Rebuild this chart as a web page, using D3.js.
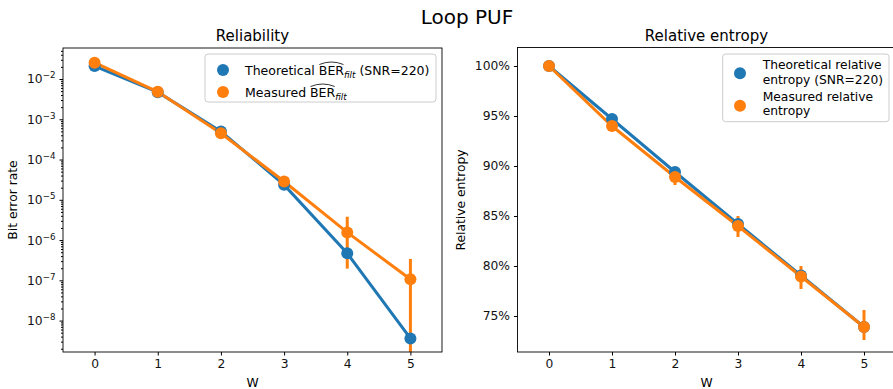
<!DOCTYPE html>
<html><head><meta charset="utf-8">
<script src="https://cdn.jsdelivr.net/npm/d3@7"></script>
<style>
body{margin:0;background:#fff;}
svg{font-family:"DejaVu Sans",sans-serif;}
</style></head>
<body><svg id="c" width="893" height="389"></svg>
<script>
const W = [0,1,2,3,4,5];
const berTheo = [0.021, 4.7e-3, 5.0e-4, 2.35e-5, 4.7e-7, 3.6e-9];
const berMeas = [0.0254, 4.8e-3, 4.5e-4, 2.85e-5, 1.55e-6, 1.06e-7];
const berMeasLo = [0.0254, 4.8e-3, 4.5e-4, 2.85e-5, 1.95e-7, 1e-12];
const berMeasHi = [0.0254, 4.8e-3, 4.5e-4, 2.85e-5, 3.8e-6, 3.4e-7];
const berTicks = [1e-8,1e-7,1e-6,1e-5,1e-4,1e-3,1e-2];
const entTheo = [100, 94.7, 89.4, 84.2, 79.05, 73.9];
const entMeas = [100, 94.0, 88.9, 84.0, 78.95, 73.9];
const entLo = [100, 93.9, 88.1, 82.9, 77.7, 72.6];
const entHi = [100, 94.1, 89.5, 85.0, 80.0, 75.6];
const entTicks = [75,80,85,90,95,100];
const BLUE = "#1f77b4", ORANGE = "#ff7f0e";

const svg = d3.select("#c");
svg.append("text").attr("x",467).attr("y",24).attr("text-anchor","middle").attr("font-size",20).text("Loop PUF");

function panel(opt){
  const g = svg.append("g");
  const x = d3.scaleLinear().domain([-0.5,5.5]).range([opt.x0,opt.x1]);
  const y = opt.y;
  const id = "clip"+opt.name;
  svg.append("clipPath").attr("id",id).append("rect")
    .attr("x",opt.x0).attr("y",opt.y0).attr("width",opt.x1-opt.x0).attr("height",opt.y1-opt.y0);
  const data = g.append("g").attr("clip-path",`url(#${id})`);
  const line = d3.line().x((d,i)=>x(W[i])).y(d=>y(d));
  data.append("path").datum(opt.theo).attr("d",line).attr("fill","none").attr("stroke",BLUE).attr("stroke-width",3);
  data.append("path").datum(opt.meas).attr("d",line).attr("fill","none").attr("stroke",ORANGE).attr("stroke-width",3);
  data.selectAll(".eb").data(W).join("line")
    .attr("x1",d=>x(d)).attr("x2",d=>x(d))
    .attr("y1",(d,i)=>y(opt.lo[i])).attr("y2",(d,i)=>y(opt.hi[i]))
    .attr("stroke",ORANGE).attr("stroke-width",3);
  data.selectAll(".pb").data(opt.theo).join("circle")
    .attr("cx",(d,i)=>x(W[i])).attr("cy",d=>y(d)).attr("r",6).attr("fill",BLUE);
  data.selectAll(".po").data(opt.meas).join("circle")
    .attr("cx",(d,i)=>x(W[i])).attr("cy",d=>y(d)).attr("r",6).attr("fill",ORANGE);

  g.append("rect").attr("x",opt.x0).attr("y",opt.y0).attr("width",opt.x1-opt.x0).attr("height",opt.y1-opt.y0)
    .attr("fill","none").attr("stroke","#000").attr("stroke-width",0.9);
  const xa = g.append("g").attr("transform",`translate(0,${opt.y1})`)
    .call(d3.axisBottom(x).tickValues(W).tickSize(3.5).tickPadding(4).tickFormat(d3.format("d")));
  xa.select(".domain").remove();
  xa.selectAll("text").attr("font-size",12.3).attr("font-family","DejaVu Sans").attr("fill","#111");
  xa.selectAll("line").attr("stroke","#000");
  g.append("text").attr("x",(opt.x0+opt.x1)/2).attr("y",387).attr("text-anchor","middle").attr("font-size",12.3).text("W");
  g.append("text").attr("x",(opt.x0+opt.x1)/2).attr("y",41).attr("text-anchor","middle").attr("font-size",15).text(opt.title);
  g.append("text").attr("transform",`translate(${opt.ylabX},200) rotate(-90)`).attr("text-anchor","middle").attr("font-size",12.3).text(opt.ylab);
  return {g,x,y};
}

const yL = d3.scaleLog().domain([Math.pow(10,-8.78), Math.pow(10,-1.23)]).range([352,48]);
const L = panel({name:"L",x0:63,x1:442,y0:48,y1:352,y:yL,theo:berTheo,meas:berMeas,lo:berMeasLo,hi:berMeasHi,
  title:"Reliability",ylab:"Bit error rate",ylabX:17});
const minor = [];
for(let e=-9;e<=-1;e++) for(let m=2;m<=9;m++){const v=m*Math.pow(10,e); if(v>yL.domain()[0]&&v<yL.domain()[1]) minor.push(v);}
const ymin = L.g.append("g").attr("transform","translate(63,0)").call(d3.axisLeft(yL).tickValues(minor).tickSize(2).tickFormat(""));
ymin.select(".domain").remove();
const yaL = L.g.append("g").attr("transform","translate(63,0)")
  .call(d3.axisLeft(yL).tickValues(berTicks).tickSize(3.5).tickPadding(4).tickFormat(()=>"10"));
yaL.select(".domain").remove();
yaL.selectAll("text").attr("font-size",12.3).attr("font-family","DejaVu Sans").attr("fill","#111")
  .each(function(d){
    d3.select(this).append("tspan").attr("font-size",8.7).attr("dy",-5).text("\u2212"+Math.round(-Math.log10(d)));
  });

const yR = d3.scaleLinear().domain([71.4,101.85]).range([352,47.5]);
const R = panel({name:"R",x0:517.5,x1:895.5,y0:47.5,y1:352,y:yR,theo:entTheo,meas:entMeas,lo:entLo,hi:entHi,
  title:"Relative entropy",ylab:"Relative entropy",ylabX:465});
const yaR = R.g.append("g").attr("transform","translate(517.5,0)")
  .call(d3.axisLeft(yR).tickValues(entTicks).tickSize(3.5).tickPadding(4).tickFormat(d=>d+"%"));
yaR.select(".domain").remove();
yaR.selectAll("text").attr("font-size",12.3).attr("font-family","DejaVu Sans").attr("fill","#111");

function legendBox(x,y,w,h){
  svg.append("rect").attr("x",x).attr("y",y).attr("width",w).attr("height",h).attr("rx",3)
    .attr("fill","#fff").attr("fill-opacity",0.8).attr("stroke","#ccc").attr("stroke-width",1);
}
legendBox(205,54,231,48);
svg.append("circle").attr("cx",223).attr("cy",70).attr("r",6).attr("fill",BLUE);
svg.append("circle").attr("cx",223).attr("cy",92).attr("r",6).attr("fill",ORANGE);
function berLabel(x,yb,pre,post){
  const t = svg.append("text").attr("x",x).attr("y",yb).attr("font-size",12.5);
  t.append("tspan").text(pre);
  t.append("tspan").text("BER");
  t.append("tspan").attr("font-size",8.7).attr("font-style","italic").attr("dy",3).text("filt");
  t.append("tspan").attr("dy",-3).text(post);
  const n = t.node();
  const s = n.getExtentOfChar(pre.length);
  const e = n.getExtentOfChar(pre.length+2);
  const x0 = s.x+0.5, x1 = e.x+e.width-0.5, top = s.y+1;
  svg.append("path").attr("d",`M${x0},${top+1} Q${(x0+x1)/2},${top-4} ${x1},${top+1}`)
    .attr("fill","none").attr("stroke","#000").attr("stroke-width",0.8);
}
berLabel(245,74.5,"Theoretical\u00a0","\u00a0(SNR=220)");
berLabel(245,96.5,"Measured\u00a0","");

legendBox(722.7,54,166.3,67.7);
svg.append("circle").attr("cx",740).attr("cy",73.3).attr("r",6).attr("fill",BLUE);
svg.append("circle").attr("cx",740).attr("cy",105.7).attr("r",6).attr("fill",ORANGE);
[["Theoretical relative",69],["entropy (SNR=220)",83.5],["Measured relative",101],["entropy",115]].forEach(([s,yb])=>{
  svg.append("text").attr("x",762.7).attr("y",yb).attr("font-size",12.3).text(s);
});
</script></body></html>
